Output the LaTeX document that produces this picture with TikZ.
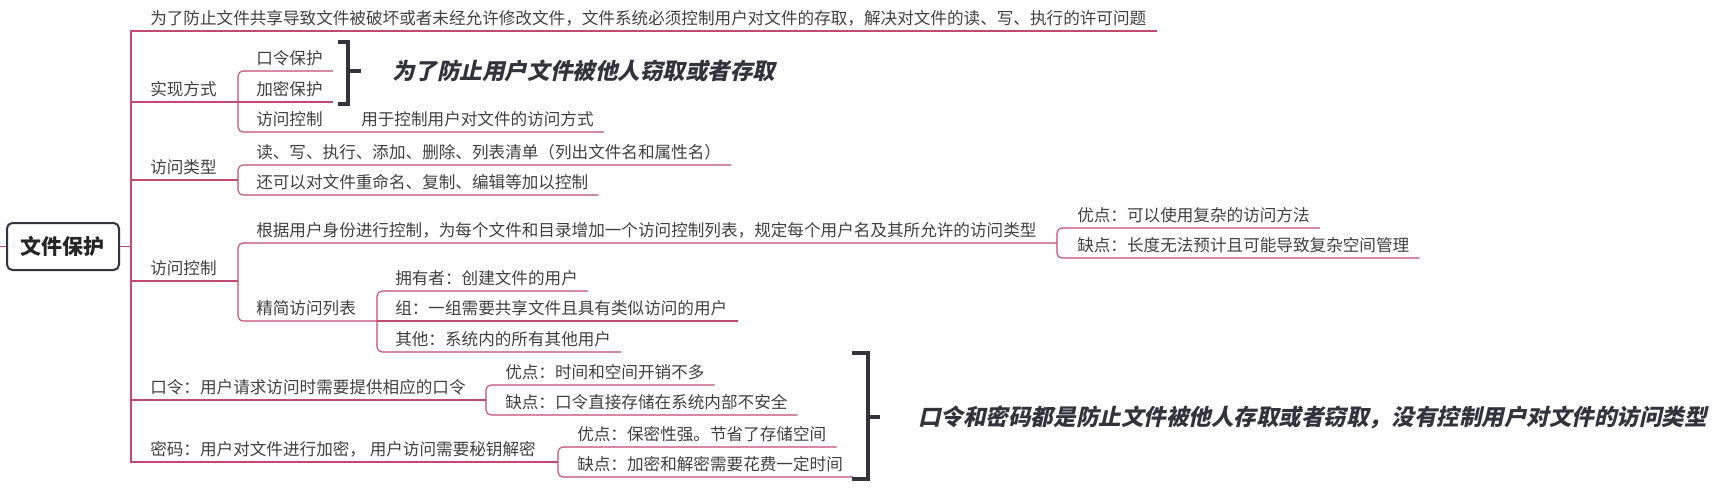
\documentclass[tikz,border=0pt]{standalone}
\usepackage{fontspec}
\setmainfont{Noto Sans CJK SC}
\newfontfamily\bifont{Noto Sans CJK SC}[FakeSlant=0.22]
\usetikzlibrary{calc}
\definecolor{br}{HTML}{C24A6E}
\definecolor{txt}{HTML}{404040}
\definecolor{brk}{HTML}{33333D}
\newcommand{\nsz}{\fontsize{12.45pt}{14pt}\selectfont}
\tikzset{
  lnk/.style={draw=br, line width=0.8pt},
  subt/.style={lnk, rounded corners=3.75pt},
  lbl/.style={anchor=south west, inner xsep=0pt, inner ysep=0pt, text height=10pt, text depth=4.9pt, font=\nsz, text=txt},
  note/.style={anchor=west, inner sep=0pt, font=\bifont\bfseries\fontsize{16.9pt}{19pt}\selectfont, text=brk},
  brack/.style={draw=brk, line width=2.6pt},
  rootbox/.style={draw=brk, line width=1.5pt, rounded corners=4pt, minimum width=84pt, minimum height=35.25pt, inner sep=0pt, font=\bfseries\fontsize{15.75pt}{18pt}\selectfont, text=black!85}
}
\begin{document}
\begin{tikzpicture}[x=0.75pt,y=-0.75pt]
\useasboundingbox (0,0) rectangle (1713,490);

\node[rootbox] (root) at (63,246.5) {文件保护};
\node[lbl] (T0) at (150,31) {为了防止文件共享导致文件被破坏或者未经允许修改文件，文件系统必须控制用户对文件的存取，解决对文件的读、写、执行的许可问题};
\node[lbl] (A) at (150,102) {实现方式};
\node[lbl] (A1) at (256,71) {口令保护};
\node[lbl] (A2) at (256,102) {加密保护};
\node[lbl] (A3) at (256,132) {访问控制};
\node[lbl] (A3a) at (361,132) {用于控制用户对文件的访问方式};
\node[lbl] (B) at (150,180) {访问类型};
\node[lbl] (B1) at (256,165) {读、写、执行、添加、删除、列表清单（列出文件名和属性名）};
\node[lbl] (B2) at (256,195) {还可以对文件重命名、复制、编辑等加以控制};
\node[lbl] (C) at (150,281) {访问控制};
\node[lbl] (C1) at (256,243) {根据用户身份进行控制，为每个文件和目录增加一个访问控制列表，规定每个用户名及其所允许的访问类型};
\node[lbl] (C1a) at (1077,228) {优点：可以使用复杂的访问方法};
\node[lbl] (C1b) at (1077,258) {缺点：长度无法预计且可能导致复杂空间管理};
\node[lbl] (C2) at (256,321) {精简访问列表};
\node[lbl] (C2a) at (395,291) {拥有者：创建文件的用户};
\node[lbl] (C2b) at (395,321) {组：一组需要共享文件且具有类似访问的用户};
\node[lbl] (C2c) at (395,352) {其他：系统内的所有其他用户};
\node[lbl] (D) at (150,400) {口令：用户请求访问时需要提供相应的口令};
\node[lbl] (D1) at (505,385) {优点：时间和空间开销不多};
\node[lbl] (D2) at (505,415) {缺点：口令直接存储在系统内部不安全};
\node[lbl] (E) at (150,462) {密码：用户对文件进行加密， 用户访问需要秘钥解密};
\node[lbl] (E1) at (577,447) {优点：保密性强。节省了存储空间};
\node[lbl] (E2) at (577,477) {缺点：加密和解密需要花费一定时间};

\node[note] (N1) at (392,71) {为了防止用户文件被他人窃取或者存取};
\node[note] (N2) at (918,417) {口令和密码都是防止文件被他人存取或者窃取，没有控制用户对文件的访问类型};

\foreach \n in {T0,A1,A2,A3a,B1,B2,C1a,C1b,C2a,C2b,C2c,D1,D2,E1,E2}
  \coordinate (\n e) at ($(\n.south east)+(10,0)$);

\coordinate (left) at (0,246.5);
\coordinate (jroot) at (131,246.5);

% connectors
\draw[lnk] (left) -- (root.west);
\draw[lnk] (root.east) -- (jroot);
\draw[lnk] (T0e) -- (131,31) -- (131,462) -- (558,462);
\draw[lnk] (131,102) -- (A2e);
\draw[subt] (A1e) -- (238,71) -- (238,132) -- (A3ae);
\draw[lnk] (131,180) -- (238,180);
\draw[subt] (B1e) -- (238,165) -- (238,195) -- (B2e);
\draw[lnk] (131,281) -- (238,281);
\draw[subt] (1057,243) -- (238,243) -- (238,321) -- (377,321);
\draw[subt] (C1ae) -- (1057,228) -- (1057,258) -- (C1be);
\draw[subt] (C2ae) -- (377,291) -- (377,352) -- (C2ce);
\draw[lnk] (377,321) -- (C2be);
\draw[lnk] (131,400) -- (486,400);
\draw[subt] (D1e) -- (486,385) -- (486,415) -- (D2e);
\draw[subt] (E1e) -- (558,447) -- (558,477) -- (E2e);

% brackets
\draw[brack] (338,42) -- (348,42) -- (348,104) -- (338,104);
\draw[brack] (348,71) -- (361,71);
\draw[brack] (852,353) -- (868,353) -- (868,479) -- (852,479);
\draw[brack] (868,417) -- (880,417);
\end{tikzpicture}
\end{document}
